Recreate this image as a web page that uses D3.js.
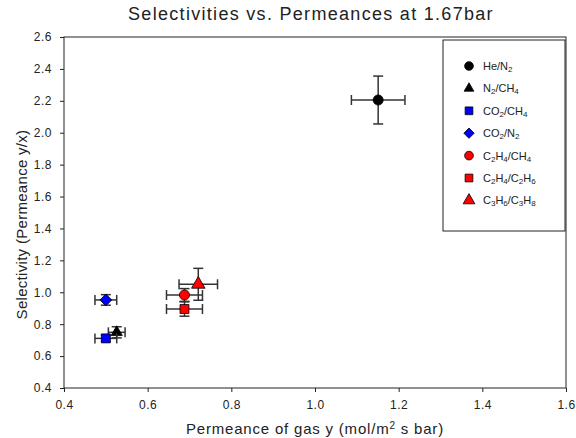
<!DOCTYPE html>
<html>
<head>
<meta charset="utf-8">
<script src="https://cdn.jsdelivr.net/npm/d3@7"></script>
<style>
  html, body { margin: 0; padding: 0; background: white; }
  svg { display: block; font-family: "Liberation Sans", Arial, sans-serif; }
  .axis path, .axis line { stroke: #222; stroke-width: 1; }
  .axis text { fill: #222; font-size: 12px; letter-spacing: 0.5px; }
</style>
</head>
<body>
<svg width="576" height="438"></svg>
<script>
// === Data

const SERIES = ['He/N_2', 'N_2/CH_4', 'CO_2/CH_4', 'CO_2/N_2', 'C_2H_4/CH_4', 'C_2H_4/C_2H_6', 'C_3H_6/C_3H_8'];
const PERMEANCE = [1.151, 0.526, 0.500, 0.500, 0.688, 0.688, 0.721];
const SELECTIVITY = [2.205, 0.749, 0.711, 0.952, 0.983, 0.895, 1.050];
const PERMEANCE_ERR = [0.064, 0.020, 0.026, 0.026, 0.043, 0.043, 0.046];
const SELECTIVITY_ERR = [0.150, 0.035, 0.020, 0.033, 0.040, 0.045, 0.100];
const X_TICKS = [0.4, 0.6, 0.8, 1.0, 1.2, 1.4, 1.6];
const Y_TICKS = [0.4, 0.6, 0.8, 1.0, 1.2, 1.4, 1.6, 1.8, 2.0, 2.2, 2.4, 2.6];

// === Styles

const MARKERS = [
  { shape: d3.symbolCircle, fill: 'black', size: 80, rotate: 0 },
  { shape: d3.symbolTriangle, fill: 'black', size: 55, rotate: 0 },
  { shape: d3.symbolSquare, fill: '#0000ff', size: 80, rotate: 0 },
  { shape: d3.symbolSquare, fill: '#0000ff', size: 70, rotate: 45 },
  { shape: d3.symbolCircle, fill: '#ff0000', size: 80, rotate: 0 },
  { shape: d3.symbolSquare, fill: '#ff0000', size: 80, rotate: 0 },
  { shape: d3.symbolTriangle, fill: '#ff0000', size: 80, rotate: 0 }
];
const MARGIN = { left: 64, top: 37, right: 10, bottom: 50 };
const CAP = 5;
const ERR_COLOR = '#333';

// === Main

const svg = d3.select('svg');
const width = 576 - MARGIN.left - MARGIN.right;
const height = 438 - MARGIN.top - MARGIN.bottom;

const x = d3.scaleLinear().domain([0.4, 1.6]).range([0, width]);
const y = d3.scaleLinear().domain([0.4, 2.6]).range([height, 0]);

const chart = svg.append('g')
  .attr('transform', `translate(${MARGIN.left},${MARGIN.top})`);

// frame
chart.append('rect')
  .attr('width', width).attr('height', height)
  .attr('fill', 'none').attr('stroke', '#222');

chart.append('g')
  .attr('class', 'x axis')
  .attr('transform', `translate(0,${height})`)
  .call(d3.axisBottom(x).tickValues(X_TICKS).tickFormat(d3.format('.1f')).tickSize(4).tickPadding(8));

chart.append('g')
  .attr('class', 'y axis')
  .call(d3.axisLeft(y).tickValues(Y_TICKS).tickFormat(d3.format('.1f')).tickSize(4).tickPadding(8));

chart.selectAll('.axis .domain').remove();

// titles
svg.append('text')
  .attr('x', MARGIN.left + width / 2 - 4).attr('y', 20)
  .attr('text-anchor', 'middle').attr('font-size', 18).attr('letter-spacing', 1.3)
  .attr('fill', '#222')
  .text('Selectivities vs. Permeances at 1.67bar');

const xTitle = svg.append('text')
  .attr('x', MARGIN.left + width / 2).attr('y', 434)
  .attr('text-anchor', 'middle').attr('font-size', 15).attr('letter-spacing', 0.8)
  .attr('fill', '#222');
xTitle.append('tspan').text('Permeance of gas y (mol/m');
xTitle.append('tspan').attr('baseline-shift', '55%').attr('font-size', 10).text('2');
xTitle.append('tspan').text(' s bar)');

svg.append('text')
  .attr('transform', `translate(27,${MARGIN.top + height / 2 + 12}) rotate(-90)`)
  .attr('text-anchor', 'middle').attr('font-size', 15).attr('letter-spacing', 0.3)
  .attr('fill', '#222')
  .text('Selectivity (Permeance y/x)');

// data points
const data = SERIES.map((name, i) => ({
  name: name,
  x: PERMEANCE[i],
  y: SELECTIVITY[i],
  xe: PERMEANCE_ERR[i],
  ye: SELECTIVITY_ERR[i],
  marker: MARKERS[i]
}));

const pts = chart.selectAll('g.point')
  .data(data)
  .enter()
  .append('g')
  .attr('class', 'point');

pts.each(function(d) {
  const g = d3.select(this);
  const cx = x(d.x), cy = y(d.y);
  const segs = [
    [x(d.x - d.xe), cy, x(d.x + d.xe), cy],
    [cx, y(d.y - d.ye), cx, y(d.y + d.ye)],
    [x(d.x - d.xe), cy - CAP, x(d.x - d.xe), cy + CAP],
    [x(d.x + d.xe), cy - CAP, x(d.x + d.xe), cy + CAP],
    [cx - CAP, y(d.y - d.ye), cx + CAP, y(d.y - d.ye)],
    [cx - CAP, y(d.y + d.ye), cx + CAP, y(d.y + d.ye)]
  ];
  g.selectAll('line')
    .data(segs)
    .enter()
    .append('line')
    .attr('x1', s => s[0]).attr('y1', s => s[1])
    .attr('x2', s => s[2]).attr('y2', s => s[3])
    .attr('stroke', ERR_COLOR).attr('stroke-width', 1.5);
  g.append('path')
    .attr('d', d3.symbol().type(d.marker.shape).size(d.marker.size)())
    .attr('transform', `translate(${cx},${cy}) rotate(${d.marker.rotate})`)
    .attr('fill', d.marker.fill)
    .attr('stroke', 'black').attr('stroke-width', 0.8);
});

// legend
const legend = svg.append('g').attr('transform', 'translate(443,40)');
legend.append('rect')
  .attr('width', 122).attr('height', 191)
  .attr('fill', 'white').attr('stroke', '#222');

const items = legend.selectAll('g.item')
  .data(data)
  .enter()
  .append('g')
  .attr('class', 'item')
  .attr('transform', (d, i) => `translate(26,${26 + i * 22.4})`);

items.append('path')
  .attr('d', d => d3.symbol().type(d.marker.shape).size(d.marker.size * 0.75)())
  .attr('transform', d => `rotate(${d.marker.rotate})`)
  .attr('fill', d => d.marker.fill)
  .attr('stroke', 'black').attr('stroke-width', 0.8);

items.append('text')
  .attr('x', 14).attr('y', 4)
  .attr('font-size', 11).attr('fill', '#222')
  .each(function(d) {
    const t = d3.select(this);
    d.name.split(/(_\d)/).filter(p => p.length).forEach(function(p) {
      if (p[0] === '_') {
        t.append('tspan').attr('baseline-shift', '-25%').attr('font-size', 8).text(p.slice(1));
      } else {
        t.append('tspan').text(p);
      }
    });
  });
</script>
</body>
</html>
